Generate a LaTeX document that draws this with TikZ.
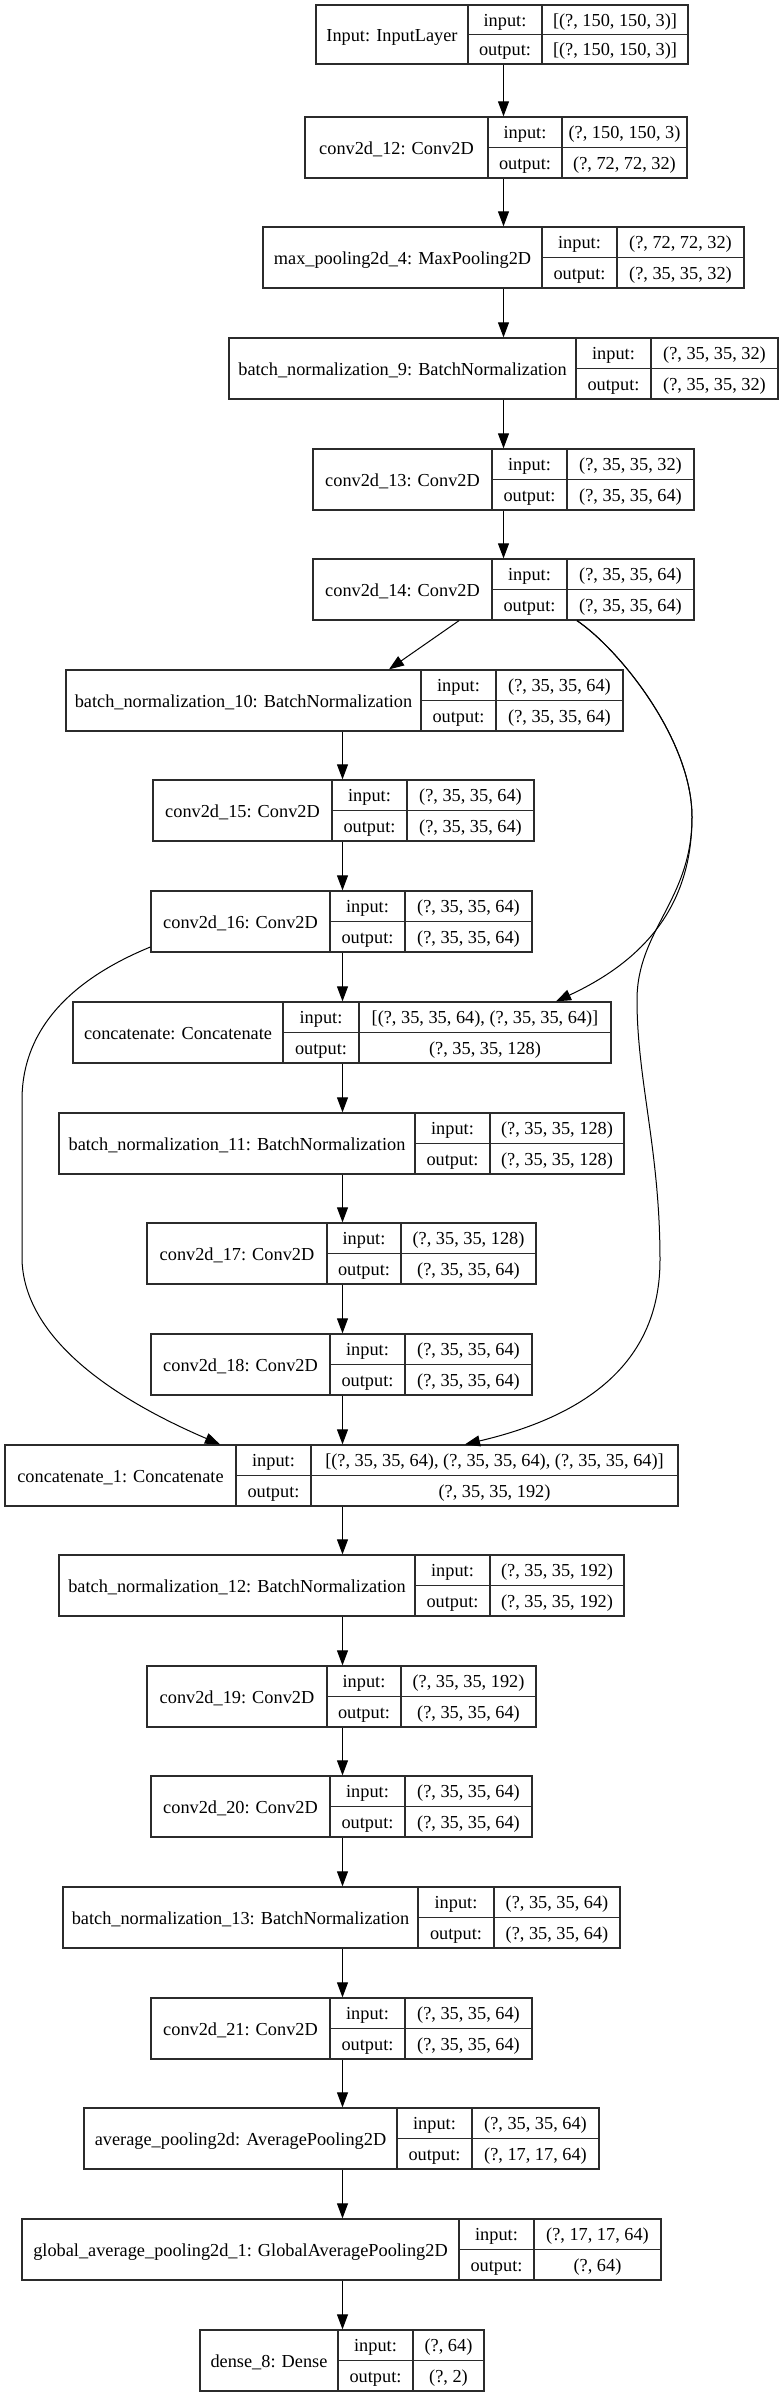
\documentclass[tikz,border=0pt]{standalone}
\usepackage{fontspec}
\setmainfont{Liberation Serif}
\usetikzlibrary{arrows.meta}
\definecolor{boxc}{HTML}{2B2B2B}
\def\BH{61}
\tikzset{
  box/.style={draw=boxc, line width=1.3pt, inner sep=0pt, minimum height=\BH pt},
  sepline/.style={draw=boxc, line width=1.3pt},
  txt/.style={inner sep=0pt, anchor=base, font=\fontsize{18.3pt}{22pt}\selectfont},
  arr/.style={draw=black, line width=1pt, -{Triangle[length=15pt,width=11pt]}},
}
\newcommand\lay[9]{%
  \pgfmathsetmacro\Lw{#5-#2}%
  \pgfmathsetmacro\Lcx{(#2+#5)/2}%
  \pgfmathsetmacro\Lcy{#6+\BH/2}%
  \pgfmathsetmacro\Lbt{#6+\BH}%
  \pgfmathsetmacro\Lra{#6+\BH/4+6.5}%
  \pgfmathsetmacro\Lrb{#6+3*\BH/4+6.5}%
  \node[box, minimum width=\Lw pt] (#1) at (\Lcx,\Lcy) {};
  \draw[sepline] (#3,#6) -- (#3,\Lbt);
  \draw[sepline] (#4,#6) -- (#4,\Lbt);
  \draw[sepline] (#3,\Lcy) -- (#5,\Lcy);
  \node[txt] (#1-name) at ({(#2+#3)/2},{\Lcy+7}) {#7};
  \node[txt] (#1-ik) at ({(#3+#4)/2},\Lra) {input:};
  \node[txt] (#1-ok) at ({(#3+#4)/2},\Lrb) {output:};
  \node[txt] (#1-iv) at ({(#4+#5)/2},\Lra) {#8};
  \node[txt] (#1-ov) at ({(#4+#5)/2},\Lrb) {#9};
}
\begin{document}
\begin{tikzpicture}[x=1pt,y=-1pt]
\useasboundingbox[fill=white] (0,0) rectangle (782,2397);
\def\BH{59}
\lay{inp}{316}{468}{542}{688}{5}{Input: InputLayer}{[(?, 150, 150, 3)]}{[(?, 150, 150, 3)]}
\def\BH{61}
\lay{c12}{305}{488}{562}{687}{117}{conv2d\_12: Conv2D}{(?, 150, 150, 3)}{(?, 72, 72, 32)}
\lay{mp4}{263}{542}{617}{744}{227}{max\_pooling2d\_4: MaxPooling2D}{(?, 72, 72, 32)}{(?, 35, 35, 32)}
\lay{bn9}{229}{576}{651}{778}{338}{batch\_normalization\_9: BatchNormalization}{(?, 35, 35, 32)}{(?, 35, 35, 32)}
\lay{c13}{313}{492}{567}{694}{449}{conv2d\_13: Conv2D}{(?, 35, 35, 32)}{(?, 35, 35, 64)}
\lay{c14}{313}{492}{567}{694}{559}{conv2d\_14: Conv2D}{(?, 35, 35, 64)}{(?, 35, 35, 64)}
\lay{bn10}{66}{421}{496}{623}{670}{batch\_normalization\_10: BatchNormalization}{(?, 35, 35, 64)}{(?, 35, 35, 64)}
\lay{c15}{153}{332}{407}{534}{780}{conv2d\_15: Conv2D}{(?, 35, 35, 64)}{(?, 35, 35, 64)}
\lay{c16}{151}{330}{405}{532}{891}{conv2d\_16: Conv2D}{(?, 35, 35, 64)}{(?, 35, 35, 64)}
\lay{cat}{73}{283}{359}{611}{1002}{concatenate: Concatenate}{[(?, 35, 35, 64), (?, 35, 35, 64)]}{(?, 35, 35, 128)}
\lay{bn11}{59}{415}{490}{624}{1113}{batch\_normalization\_11: BatchNormalization}{(?, 35, 35, 128)}{(?, 35, 35, 128)}
\lay{c17}{147}{327}{401}{536}{1223}{conv2d\_17: Conv2D}{(?, 35, 35, 128)}{(?, 35, 35, 64)}
\lay{c18}{151}{330}{405}{532}{1334}{conv2d\_18: Conv2D}{(?, 35, 35, 64)}{(?, 35, 35, 64)}
\lay{cat1}{5}{236}{311}{678}{1445}{concatenate\_1: Concatenate}{[(?, 35, 35, 64), (?, 35, 35, 64), (?, 35, 35, 64)]}{(?, 35, 35, 192)}
\lay{bn12}{59}{415}{490}{624}{1555}{batch\_normalization\_12: BatchNormalization}{(?, 35, 35, 192)}{(?, 35, 35, 192)}
\lay{c19}{147}{327}{401}{536}{1666}{conv2d\_19: Conv2D}{(?, 35, 35, 192)}{(?, 35, 35, 64)}
\lay{c20}{151}{330}{405}{532}{1776}{conv2d\_20: Conv2D}{(?, 35, 35, 64)}{(?, 35, 35, 64)}
\lay{bn13}{63}{418}{494}{620}{1887}{batch\_normalization\_13: BatchNormalization}{(?, 35, 35, 64)}{(?, 35, 35, 64)}
\lay{c21}{151}{330}{405}{532}{1998}{conv2d\_21: Conv2D}{(?, 35, 35, 64)}{(?, 35, 35, 64)}
\lay{ap}{84}{397}{472}{599}{2108}{average\_pooling2d: AveragePooling2D}{(?, 35, 35, 64)}{(?, 17, 17, 64)}
\lay{gap}{22}{459}{534}{661}{2219}{global\_average\_pooling2d\_1: GlobalAveragePooling2D}{(?, 17, 17, 64)}{(?, 64)}
\lay{d8}{200}{338}{413}{484}{2330}{dense\_8: Dense}{(?, 64)}{(?, 2)}
% arrow columns
\coordinate (xa) at (503.5,0);
\coordinate (xb) at (342.5,0);
\draw[arr] (inp.south -| xa) -- (c12.north -| xa);
\draw[arr] (c12.south -| xa) -- (mp4.north -| xa);
\draw[arr] (mp4.south -| xa) -- (bn9.north -| xa);
\draw[arr] (bn9.south -| xa) -- (c13.north -| xa);
\draw[arr] (c13.south -| xa) -- (c14.north -| xa);
\draw[arr] ([xshift=-44.5pt]c14.south) -- ([xshift=44.5pt]bn10.north);
\draw[arr] ([xshift=73.5pt]c14.south) .. controls (620,650) and (692,740) .. (692,817)
  .. controls (692,905) and (645,960) .. ([xshift=214pt]cat.north);
\draw[arr] ([xshift=73.5pt]c14.south) .. controls (620,650) and (692,740) .. (692,817)
  .. controls (692,900) and (637,930) .. (637,1000)
  .. controls (637,1080) and (660,1150) .. (660,1260)
  .. controls (660,1360) and (590,1415) .. ([xshift=123.5pt]cat1.north);
\draw[arr] (bn10.south -| xb) -- (c15.north -| xb);
\draw[arr] (c15.south -| xb) -- (c16.north -| xb);
\draw[arr] (c16.south -| xb) -- (cat.north -| xb);
\draw[arr] ([yshift=-25.5pt]c16.west) .. controls (70,980) and (22,1030) .. (22,1100)
  -- (22,1260) .. controls (25,1350) and (140,1410) .. ([xshift=-121.5pt]cat1.north);
\draw[arr] (cat.south -| xb) -- (bn11.north -| xb);
\draw[arr] (bn11.south -| xb) -- (c17.north -| xb);
\draw[arr] (c17.south -| xb) -- (c18.north -| xb);
\draw[arr] (c18.south -| xb) -- (cat1.north -| xb);
\draw[arr] (cat1.south -| xb) -- (bn12.north -| xb);
\draw[arr] (bn12.south -| xb) -- (c19.north -| xb);
\draw[arr] (c19.south -| xb) -- (c20.north -| xb);
\draw[arr] (c20.south -| xb) -- (bn13.north -| xb);
\draw[arr] (bn13.south -| xb) -- (c21.north -| xb);
\draw[arr] (c21.south -| xb) -- (ap.north -| xb);
\draw[arr] (ap.south -| xb) -- (gap.north -| xb);
\draw[arr] (gap.south -| xb) -- (d8.north -| xb);
\end{tikzpicture}
\end{document}
